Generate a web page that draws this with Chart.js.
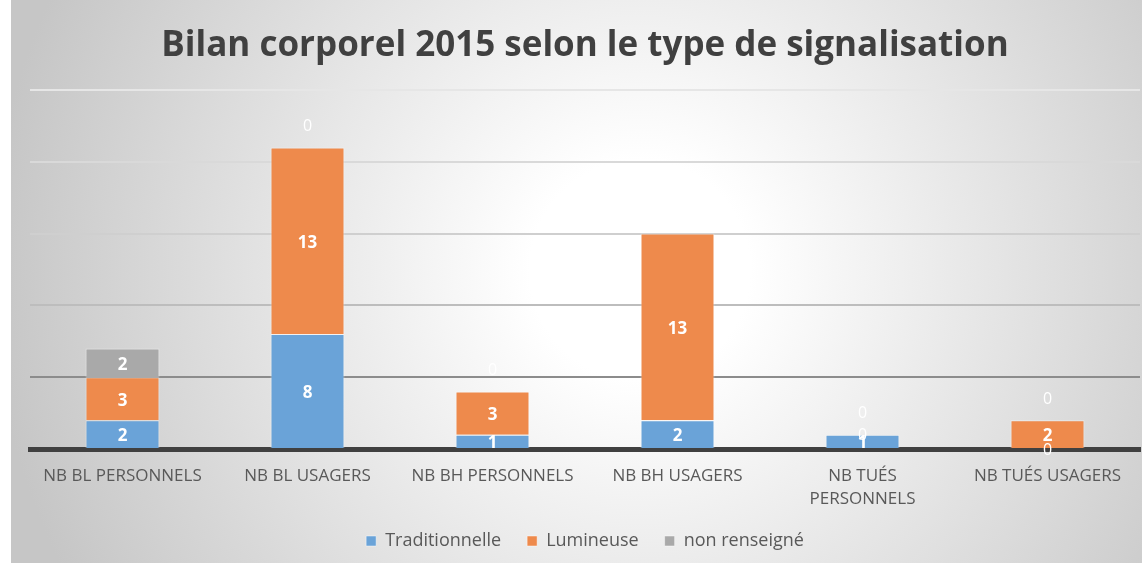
<!DOCTYPE html>
<html>
<head>
<meta charset="utf-8">
<script src="https://cdn.jsdelivr.net/npm/chart.js@4.4.0/dist/chart.umd.min.js"></script>
<style>
  html,body{margin:0;padding:0;background:#fff;}
  #wrap{width:1142px;height:566px;}
</style>
</head>
<body>
<div id="wrap"><canvas id="bilanChart" width="1142" height="566"></canvas></div>
<script>
const categories=[
    "NB BL PERSONNELS",
    "NB BL USAGERS",
    "NB BH PERSONNELS",
    "NB BH USAGERS",
    ["NB TUÉS","PERSONNELS"],
    "NB TUÉS USAGERS"
];
const traditionnelle=[2,8,1,2,1,0];
const lumineuse=[3,13,3,13,0,2];
const nonRenseigne=[2,0,0,0,0,0];
const seriesNames=["Traditionnelle","Lumineuse","non renseigné"];
const title="Bilan corporel 2015 selon le type de signalisation";

// fond en dégradé radial comme dans Excel
const bgPlugin={
    id:"bg",
    beforeDraw(chart){
        let ctx=chart.ctx;
        let g=ctx.createRadialGradient(640,270,110,640,270,650);
        g.addColorStop(0,"#ffffff");
        g.addColorStop(1,"#c6c6c6");
        ctx.save();
        ctx.fillStyle=g;
        ctx.fillRect(11,0,1131,563);
        ctx.restore();
    }
};

// étiquettes de valeurs (pas de plugin datalabels dispo)
const labelPlugin={
    id:"valueLabels",
    afterDatasetsDraw(chart){
        let ctx=chart.ctx;
        ctx.save();
        ctx.fillStyle="#ffffff";
        ctx.textAlign="center";
        ctx.textBaseline="middle";
        let last=chart.data.datasets.length-1;
        chart.data.datasets.forEach((ds,i)=>{
            let meta=chart.getDatasetMeta(i);
            meta.data.forEach((el,j)=>{
                let v=ds.data[j];
                let y;
                if(v===0){
                    ctx.font="16px 'Open Sans'";
                    y=(i===last)?el.y-21:el.y+1;
                }else{
                    ctx.font="bold 17px 'Open Sans'";
                    y=(el.y+el.base)/2+2;
                }
                ctx.fillText(String(v),el.x,y);
            });
        });
        ctx.restore();
    }
};

const gridColors={0:"rgba(0,0,0,0)",5:"#8c8c8c",10:"#bdbdbd",15:"#cfcfcf",20:"#d9d9d9",25:"#e6e6e6"};

const ctx=document.getElementById("bilanChart").getContext("2d");
const myChart=new Chart(ctx,{
    type:"bar",
    data:{
        labels:categories,
        datasets:[
            {label:seriesNames[0],data:traditionnelle,backgroundColor:"#6aa3d8",borderColor:"rgba(255,255,255,0.45)",borderWidth:1},
            {label:seriesNames[1],data:lumineuse,backgroundColor:"#ee8a4c",borderColor:"rgba(255,255,255,0.45)",borderWidth:1},
            {label:seriesNames[2],data:nonRenseigne,backgroundColor:"#a9a9a9",borderColor:"rgba(255,255,255,0.45)",borderWidth:1}
        ]
    },
    options:{
        responsive:false,
        animation:false,
        layout:{padding:{left:30,right:2,top:0,bottom:6}},
        datasets:{bar:{barPercentage:0.4,categoryPercentage:1}},
        plugins:{
            title:{
                display:true,
                text:title,
                color:"#404040",
                font:{family:"'Open Sans'",size:35,weight:"bold"},
                padding:{top:25,bottom:23}
            },
            legend:{
                position:"bottom",
                labels:{
                    boxWidth:10,
                    boxHeight:10,
                    padding:26,
                    color:"#595959",
                    font:{family:"'Open Sans'",size:18}
                }
            },
            tooltip:{enabled:false}
        },
        scales:{
            x:{
                stacked:true,
                grid:{display:false},
                border:{display:true,color:"#404040",width:5},
                ticks:{color:"#595959",padding:8,maxRotation:0,autoSkip:false,font:{family:"'Open Sans'",size:17,lineHeight:1.35}},
                afterFit:(scale)=>{scale.height=57;}
            },
            y:{
                stacked:true,
                min:0,
                max:25,
                ticks:{display:false,stepSize:5},
                border:{display:false},
                grid:{
                    drawTicks:false,
                    lineWidth:2,
                    color:(c)=>gridColors[c.tick.value]||"#d0d0d0"
                }
            }
        }
    },
    plugins:[bgPlugin,labelPlugin]
});
</script>
</body>
</html>
